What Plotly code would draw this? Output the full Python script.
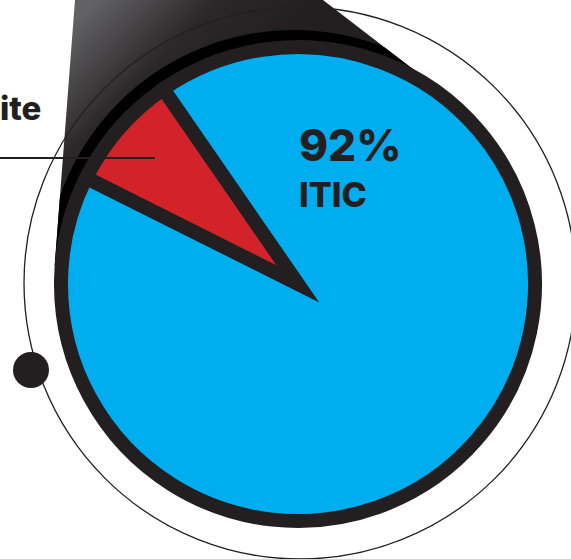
import base64
import plotly.graph_objects as go

# Share of each material (percent)
materials = ["ite", "ITIC"]
shares = [8, 92]
slice_colors = ["#D2232A", "#00AEEF"]

INK = "#231F20"
W, H = 571, 559

# Pie geometry (pixels): centre and radius of the slice outlines
cx, cy, r = 298, 284, 237
ring = 14

# Backdrop: the dark "spotlight" cone with a soft highlight, plus the darker rim under the pie
cone = "75,0 323,0 470,113 298,284 54.7,265.3"
svg = f"""<svg xmlns='http://www.w3.org/2000/svg' width='{W}' height='{H}' viewBox='0 0 {W} {H}' preserveAspectRatio='none'>
<defs>
<linearGradient id='g' gradientUnits='userSpaceOnUse' x1='100' y1='-5' x2='215' y2='105'>
<stop offset='0' stop-color='#626264'/>
<stop offset='0.55' stop-color='#2c2829'/>
<stop offset='1' stop-color='#231F20'/>
</linearGradient>
<clipPath id='c'><polygon points='{cone}'/></clipPath>
</defs>
<polygon points='{cone}' fill='url(#g)'/>
<circle cx='294' cy='278' r='248' fill='#000' clip-path='url(#c)'/>
</svg>"""
svg_uri = "data:image/svg+xml;base64," + base64.b64encode(svg.encode()).decode()

fig = go.Figure()

# invisible trace so the pixel-scaled cartesian axes exist for shapes/annotations
fig.add_trace(go.Scatter(x=[], y=[], showlegend=False, hoverinfo="skip"))

# start angle so the small slice sits in the upper-left
fig.add_trace(go.Pie(
    labels=materials,
    values=shares,
    sort=False,
    direction="counterclockwise",
    rotation=-63.4,
    marker=dict(colors=slice_colors, line=dict(color=INK, width=ring)),
    textinfo="none",
    hoverinfo="skip",
    showlegend=False,
    domain=dict(x=[(cx - r) / W, (cx + r) / W], y=[(H - cy - r) / H, (H - cy + r) / H]),
))

shapes = [
    # thin orbit circle
    dict(type="circle", xref="x", yref="y", x0=300 - 276, x1=300 + 276, y0=283 - 276, y1=283 + 276,
         line=dict(color=INK, width=1.3), fillcolor="rgba(0,0,0,0)", layer="above"),
    # dot on the orbit
    dict(type="circle", xref="x", yref="y", x0=31 - 18, x1=31 + 18, y0=370 - 18, y1=370 + 18,
         line=dict(width=0), fillcolor=INK, layer="above"),
    # leader line to the small slice
    dict(type="line", xref="x", yref="y", x0=0, x1=155, y0=158, y1=158,
         line=dict(color=INK, width=2), layer="above"),
]

FONT = "Inter"
annotations = [
    dict(x=297, y=145, xref="x", yref="y", text=f"{shares[1]}%", showarrow=False,
         xanchor="left", yanchor="middle", font=dict(family=FONT, size=44, color=INK, weight=800)),
    dict(x=297, y=194, xref="x", yref="y", text=materials[1], showarrow=False,
         xanchor="left", yanchor="middle", font=dict(family=FONT, size=34, color=INK, weight=800)),
    dict(x=43, y=108, xref="x", yref="y", text=materials[0], showarrow=False,
         xanchor="right", yanchor="middle", font=dict(family=FONT, size=33, color=INK, weight=800)),
]

fig.update_layout(
    width=W, height=H,
    margin=dict(l=0, r=0, t=0, b=0),
    paper_bgcolor="white", plot_bgcolor="rgba(0,0,0,0)",
    xaxis=dict(range=[0, W], visible=False, fixedrange=True),
    yaxis=dict(range=[H, 0], visible=False, fixedrange=True),
    shapes=shapes,
    annotations=annotations,
    images=[dict(source=svg_uri, xref="paper", yref="paper", x=0, y=1, sizex=1, sizey=1,
                 xanchor="left", yanchor="top", sizing="stretch", layer="below")],
)

# sharp mitred tips on the narrow slice outline
post = ("document.querySelectorAll('.pielayer path.surface').forEach(function(p){"
        "p.style.strokeLinejoin='miter';p.style.strokeMiterlimit='12';});")
fig.write_html("out.html", config={"displayModeBar": False}, post_script=post)
